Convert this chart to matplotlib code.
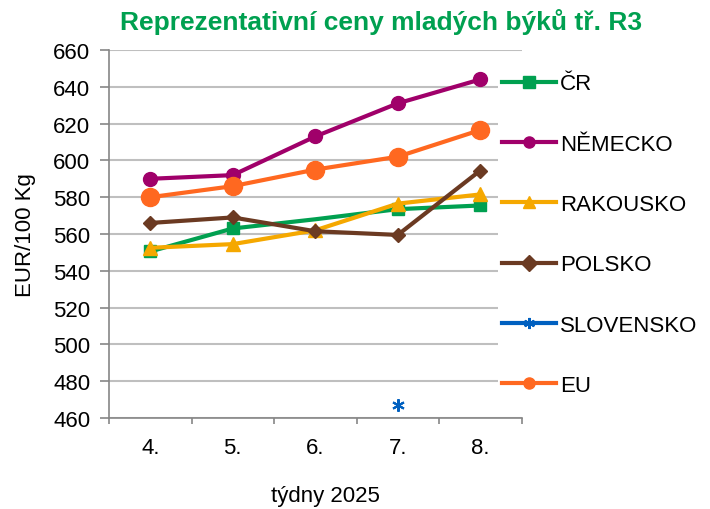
import matplotlib
matplotlib.use('Agg')
import matplotlib.pyplot as plt
from matplotlib.lines import Line2D
import numpy as np

plt.rcParams['font.family'] = ['Liberation Sans', 'DejaVu Sans']

weeks = ['4.', '5.', '6.', '7.', '8.']
cr = [550.5, 563, 568, 573.5, 575.5]       # week 6 point hidden under other lines
nemecko = [590, 592, 613, 631, 644]
rakousko = [552.5, 554.5, 562, 576.5, 581.5]
polsko = [566, 569, 561.5, 559.5, 594.5]
slovensko = [np.nan, np.nan, np.nan, 467, np.nan]
eu = [580, 586, 595, 602, 616.5]

names = ['ČR', 'NĚMECKO', 'RAKOUSKO', 'POLSKO', 'SLOVENSKO', 'EU']
colors = ['#00A050', '#A0006A', '#F5A800', '#6B3A22', '#0060C0', '#FF6820']
markers = ['s', 'o', '^', 'D', (6, 2, 0), 'o']

fig = plt.figure(figsize=(7.1, 5.1), dpi=100)
ax = fig.add_axes([109/710, 1-419/510, (521.5-109)/710, (419-51)/510])
x = np.arange(len(weeks))

ax.plot(x, cr, color=colors[0], lw=3, marker='s', ms=8.5, markevery=[0, 1, 3, 4], zorder=3)
ax.plot(x, nemecko, color=colors[1], lw=3, marker='o', ms=10, zorder=3)
ax.plot(x, rakousko, color=colors[2], lw=3, marker='^', ms=10, zorder=3)
ax.plot(x, polsko, color=colors[3], lw=3, marker='D', ms=7.5, zorder=4)
ax.plot(x, slovensko, color=colors[4], lw=3, marker=(6, 2, 0), ms=9, mew=1.5, zorder=3)
ax.plot(x, eu, color=colors[5], lw=3, marker='o', ms=13, zorder=3)

ax.set_xlim(-0.5, 4.5)
ax.set_ylim(460, 660)
ax.set_yticks(np.arange(460, 661, 20))
ax.set_xticks(x)
ax.set_xticklabels(weeks)
ax.set_xticks(np.arange(-0.5, 4.6, 1), minor=True)
ax.tick_params(axis='x', which='major', length=0, pad=14, labelsize=16)
ax.tick_params(axis='x', which='minor', length=4.5, width=1.2, color='#868686')
ax.tick_params(axis='y', length=6.5, width=1.2, color='#868686', labelsize=16, pad=7)
ax.grid(axis='y', color='#BFBFBF', lw=1.5)
ax.set_axisbelow(True)
for s in ['top', 'right']:
    ax.spines[s].set_visible(False)
for s in ['left', 'bottom']:
    ax.spines[s].set_color('#868686')
    ax.spines[s].set_linewidth(1.2)

ax.set_ylabel('EUR/100 Kg', fontsize=16, labelpad=12)
fig.text(325/710, 1-497/510, 'týdny 2025', ha='center', va='center', fontsize=16)
fig.text(381/710, 1-22/510, 'Reprezentativní ceny mladých býků tř. R3', ha='center', va='center',
         fontsize=19, fontweight='bold', color='#00A050')

handles = [Line2D([], [], color=c, lw=3, marker=m, ms=8, mew=1.5 if i == 4 else 1)
           for i, (c, m) in enumerate(zip(colors, markers))]
leg = fig.legend(handles, names, loc='upper left', bbox_to_anchor=(498/710, 1-70/510), frameon=True,
                 fontsize=16, handlelength=2.4, labelspacing=1.77, handletextpad=0.2,
                 borderpad=0.2, borderaxespad=0)
leg.get_frame().set_facecolor('white')
leg.get_frame().set_edgecolor('none')
leg.get_frame().set_alpha(1)

fig.savefig('out.png', dpi=100)
